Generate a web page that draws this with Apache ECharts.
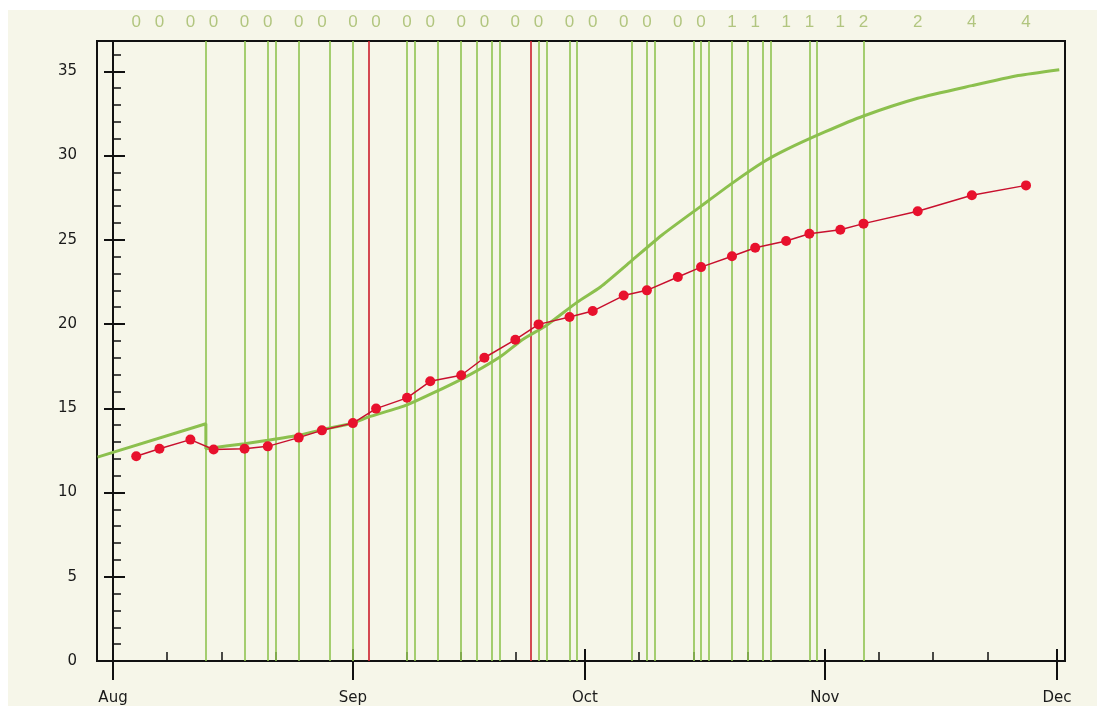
<!DOCTYPE html>
<html>
<head>
<meta charset="utf-8">
<script src="https://cdn.jsdelivr.net/npm/echarts@6/dist/echarts.min.js"></script>
<style>
  html, body { margin: 0; padding: 0; background: #ffffff; }
  #main { position: absolute; left: 8px; top: 10px; width: 1089px; height: 696px; }
</style>
</head>
<body>
<div id="main"></div>
<script>
// x positions are days counted from Aug 1
var monthLabels = ['Aug', 'Sep', 'Oct', 'Nov', 'Dec'];
var monthDays = [0, 31, 61, 92, 122];
var weekTickDays = [7, 14, 21, 38, 45, 52, 68, 75, 82, 99, 106, 113];
var yMajorTicks = [0, 5, 10, 15, 20, 25, 30, 35];

// smooth green curve
var modelDays = [-2, 12, 12, 17, 20, 24, 27, 31, 33, 38, 45, 50, 53, 56, 60, 63, 67, 71, 76, 80, 84, 87, 92, 97, 104, 111, 117, 122.3];
var modelValues = [12.1, 14.08, 12.6, 12.9, 13.1, 13.4, 13.73, 14.12, 14.48, 15.2, 16.72, 18.04, 19.1, 19.92, 21.3, 22.2, 23.75, 25.3, 27.0, 28.35, 29.6, 30.35, 31.4, 32.35, 33.4, 34.15, 34.75, 35.1];

// red observed points and the counts written above them
var obsDays = [3, 6, 10, 13, 17, 20, 24, 27, 31, 34, 38, 41, 45, 48, 52, 55, 59, 62, 66, 69, 73, 76, 80, 83, 87, 90, 94, 97, 104, 111, 118];
var obsValues = [12.15, 12.6, 13.14, 12.55, 12.6, 12.74, 13.26, 13.69, 14.12, 14.98, 15.62, 16.6, 16.96, 18.0, 19.07, 19.98, 20.42, 20.77, 21.69, 22.0, 22.79, 23.38, 24.02, 24.53, 24.93, 25.36, 25.6, 25.96, 26.69, 27.64, 28.23];
var obsCounts = [0, 0, 0, 0, 0, 0, 0, 0, 0, 0, 0, 0, 0, 0, 0, 0, 0, 0, 0, 0, 0, 0, 1, 1, 1, 1, 1, 2, 2, 4, 4];

// vertical event lines
var greenEventDays = [12, 17, 20, 21, 24, 28, 31, 38, 39, 42, 45, 47, 49, 50, 55, 56, 59, 60, 67, 69, 70, 75, 76, 77, 80, 82, 84, 85, 90, 91, 97];
var redEventDays = [33, 54];

var xMin = -2.07, xMax = 123.04;
var yMax = 36.8;
var font = 'DejaVu Sans';
var ink = '#111111';

var yMinorTicks = [];
for (var i = 0; i <= 36; i++) yMinorTicks.push(i);

var chart = echarts.init(document.getElementById('main'));

function baseAxis(min, max, pos, extra) {
    var o = {
        type: 'value', min: min, max: max, position: pos,
        splitLine: { show: false },
        axisLine: { show: false },
        axisLabel: { show: false }
    };
    for (var k in extra) o[k] = extra[k];
    return o;
}

var eventLines = greenEventDays.map(function (d) {
    return { xAxis: d, lineStyle: { color: '#90c450', width: 1.6, type: 'solid' } };
}).concat(redEventDays.map(function (d) {
    return { xAxis: d, lineStyle: { color: '#cc1f2c', width: 1.6, type: 'solid' } };
}));

chart.setOption({
    animation: false,
    backgroundColor: '#f6f6e9',
    grid: {
        left: 89, top: 31, right: 32, bottom: 45,
        show: true, borderColor: ink, borderWidth: 2,
        backgroundColor: '#f6f6e9',
        outerBoundsMode: 'none'
    },
    xAxis: [
        baseAxis(xMin, xMax, 'bottom', {
            axisLine: { show: true, lineStyle: { color: ink, width: 2 } },
            axisTick: { show: true, customValues: monthDays, length: 19, lineStyle: { color: ink, width: 2 } },
            axisLabel: {
                show: true, customValues: monthDays, margin: 30,
                fontFamily: font, fontSize: 15, color: '#1a1a1a',
                formatter: function (v) {
                    return monthLabels[monthDays.indexOf(Math.round(v))];
                }
            }
        }),
        baseAxis(xMin, xMax, 'bottom', {
            axisTick: { show: true, inside: true, customValues: monthDays, length: 12, lineStyle: { color: ink, width: 2 } },
            axisLabel: { show: false, customValues: monthDays }
        }),
        baseAxis(xMin, xMax, 'bottom', {
            axisTick: { show: true, inside: true, customValues: weekTickDays, length: 9, lineStyle: { color: ink, width: 1.5 } },
            axisLabel: { show: false, customValues: weekTickDays }
        })
    ],
    yAxis: [
        baseAxis(0, yMax, 'left', {
            axisLine: { show: true, lineStyle: { color: ink, width: 2 } },
            axisTick: { show: true, customValues: yMajorTicks, length: 9, lineStyle: { color: ink, width: 2 } },
            axisLabel: { show: true, customValues: yMajorTicks, margin: 20, fontFamily: font, fontSize: 15, color: '#1a1a1a' }
        }),
        baseAxis(0, yMax, 'left', {
            axisTick: { show: true, inside: true, customValues: yMajorTicks, length: 12, lineStyle: { color: ink, width: 2 } },
            axisLabel: { show: false, customValues: yMajorTicks }
        }),
        baseAxis(0, yMax, 'left', {
            axisTick: { show: true, inside: true, customValues: yMinorTicks, length: 8, lineStyle: { color: ink, width: 1.5 } },
            axisLabel: { show: false, customValues: yMinorTicks }
        })
    ],
    series: [
        {
            name: 'model',
            type: 'line',
            z: 3,
            showSymbol: false,
            smooth: 0.2,
            lineStyle: { color: '#8cc04e', width: 3 },
            data: modelDays.map(function (d, i) { return [d, modelValues[i]]; }),
            markLine: {
                z: 1,
                silent: true,
                symbol: ['none', 'none'],
                label: { show: false },
                data: eventLines
            }
        },
        {
            name: 'observed',
            type: 'line',
            z: 4,
            symbol: 'circle',
            symbolSize: 10,
            itemStyle: { color: '#e8112d' },
            lineStyle: { color: '#c8102e', width: 1.5 },
            data: obsDays.map(function (d, i) { return [d, obsValues[i]]; })
        },
        {
            name: 'counts',
            type: 'scatter',
            z: 5,
            symbolSize: 0,
            clip: false,
            label: {
                show: true, position: 'top', distance: 10,
                fontFamily: 'Liberation Sans', fontSize: 17, color: '#a0b964',
                formatter: function (p) { return String(obsCounts[p.dataIndex]); }
            },
            data: obsDays.map(function (d) { return [d, yMax]; })
        }
    ]
});
</script>
</body>
</html>
